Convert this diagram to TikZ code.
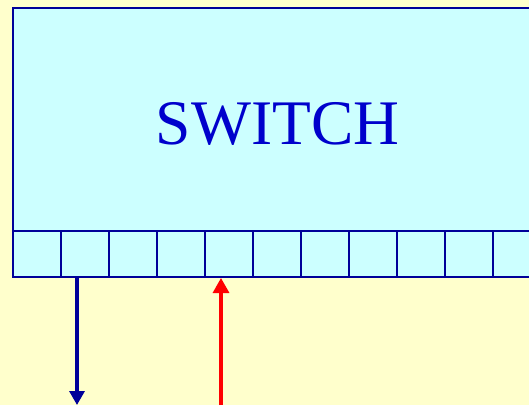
\documentclass[tikz,border=0pt]{standalone}
\usepackage{fontspec}
\setmainfont{Liberation Serif}
\usetikzlibrary{arrows.meta}
\definecolor{paper}{HTML}{FFFFCC}
\definecolor{boxfill}{HTML}{CCFFFF}
\definecolor{navy}{HTML}{000099}
\definecolor{labelblue}{HTML}{0000CC}
\definecolor{signalred}{HTML}{FF0000}
\tikzset{
  switchbody/.style={draw=navy, fill=boxfill, line width=2.2pt, anchor=north west,
    minimum width=547pt, minimum height=269pt, inner sep=0pt, outer sep=0pt},
  portcell/.style={draw=navy, fill=boxfill, line width=2.2pt, anchor=south west,
    minimum width=48pt, minimum height=46pt, inner sep=0pt, outer sep=0pt},
  outflow/.style={draw=navy, line width=3.2pt, -{Triangle[length=14pt,width=15pt]}},
  inflow/.style={draw=signalred, line width=3.2pt, -{Triangle[length=15pt,width=16pt]}},
  title/.style={text=labelblue, font=\fontsize{63.5}{72}\selectfont, anchor=base, inner sep=0pt}
}
\begin{document}
\begin{tikzpicture}[x=1pt,y=1pt]
  \useasboundingbox (0,0) rectangle (529,405);
  \fill[paper] (0,0) rectangle (529,405);
  \clip (0,0) rectangle (529,405);
  % switch housing
  \node[switchbody] (sw) at (13,397) {};
  % row of ports along the bottom edge
  \foreach \i in {0,...,10} {
    \node[portcell] (c\i) at ({13+48*\i},128) {};
  }
  \node[title] (lbl) at (277.5,261) {SWITCH};
  % outgoing and incoming lines
  \coordinate (outend) at (77,0);
  \coordinate (instart) at (221,0);
  \draw[outflow] (c1.south -| outend) -- (outend);
  \draw[inflow] (instart) -- ([yshift=-1pt]c4.south -| instart);
\end{tikzpicture}
\end{document}
